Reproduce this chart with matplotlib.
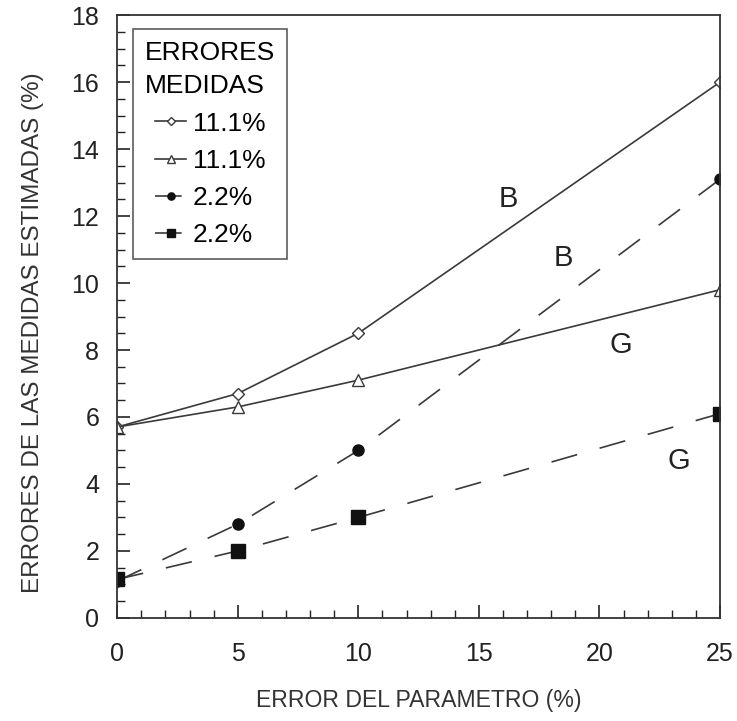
import matplotlib
matplotlib.use('Agg')
import matplotlib.pyplot as plt
from matplotlib.ticker import MultipleLocator

plt.rcParams['font.family'] = ['Liberation Sans', 'DejaVu Sans']

# Error del parametro (%)
x = [0, 5, 10, 25]

# Errores de las medidas estimadas (%)
b_111 = [5.7, 6.7, 8.5, 16.0]   # diamonds, B
g_111 = [5.7, 6.3, 7.1, 9.8]    # triangles, G
b_22 = [1.1, 2.8, 5.0, 13.1]    # circles, B
g_22 = [1.15, 2.0, 3.0, 6.1]    # squares, G

labels = ['11.1%', '11.1%', '2.2%', '2.2%']

fig = plt.figure(figsize=(7.37, 7.21), dpi=100)
ax = fig.add_axes([0.159, 0.143, 0.818, 0.836])

lc = '#3a3a3a'
dash = (0, (16, 14))
ax.plot(x, b_111, '-', color=lc, lw=1.2, marker='D', ms=6, mfc='white', mec=lc, label=labels[0])
ax.plot(x, g_111, '-', color=lc, lw=1.2, marker='^', ms=8, mfc='white', mec=lc, label=labels[1])
ax.plot(x, b_22, color=lc, lw=1.2, ls=dash, marker='o', ms=8, mfc='#111111', mec='#111111', label=labels[2])
ax.plot(x, g_22, color=lc, lw=1.2, ls=dash, marker='s', ms=9.5, mfc='#111111', mec='#111111', label=labels[3])

ax.text(16.2, 12.5, 'B', fontsize=21, ha='center', va='center', color='#222222')
ax.text(18.5, 10.75, 'B', fontsize=21, ha='center', va='center', color='#222222')
ax.text(20.9, 8.15, 'G', fontsize=21, ha='center', va='center', color='#222222')
ax.text(23.3, 4.7, 'G', fontsize=21, ha='center', va='center', color='#222222')

ax.set_xlim(0, 25)
ax.set_ylim(0, 18)
ax.xaxis.set_major_locator(MultipleLocator(5))
ax.xaxis.set_minor_locator(MultipleLocator(1))
ax.yaxis.set_major_locator(MultipleLocator(2))
ax.yaxis.set_minor_locator(MultipleLocator(0.5))
ax.tick_params(which='both', direction='in', top=False, right=False, colors='#222222')
ax.tick_params(which='major', length=9.5, width=1.2, labelsize=18)
ax.tick_params(which='minor', length=5.5, width=1.0)
ax.tick_params(axis='x', which='major', pad=17)
ax.tick_params(axis='y', which='major', pad=13)
for s in ax.spines.values():
    s.set_linewidth(1.3)
    s.set_color('#333333')

ax.set_xlabel('ERROR DEL PARAMETRO (%)', fontsize=16.6, labelpad=17, color='#333333')
ax.set_ylabel('ERRORES DE LAS MEDIDAS ESTIMADAS (%)', fontsize=17.5, color='#333333')
ax.yaxis.set_label_coords(-0.122, 0.473)

leg = ax.legend(title='ERRORES\nMEDIDAS', loc='upper left', bbox_to_anchor=(0.0265, 0.977),
                borderaxespad=0, fontsize=19, title_fontsize=19, frameon=True, fancybox=False,
                edgecolor='#333333', handlelength=1.2, handletextpad=0.25,
                borderpad=0.45, labelspacing=0.5, markerscale=0.65)
leg.get_frame().set_linewidth(1.2)
leg.get_title().set_linespacing(1.5)

fig.savefig('out.png', dpi=100)
